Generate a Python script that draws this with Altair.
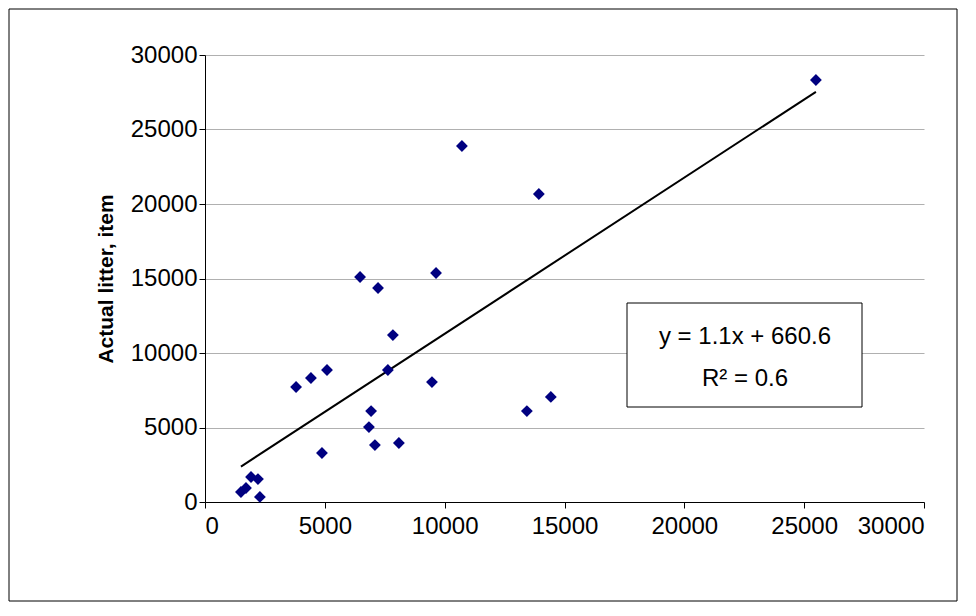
import pandas as pd
import altair as alt

predicted = [1500, 1710, 1920, 2210, 2290, 3800, 4420, 5090, 4880, 6470, 7220, 6930,
             6840, 7090, 8090, 7630, 7840, 9470, 9640, 10720, 13930, 13430, 14430, 25490]
actual = [670, 940, 1680, 1540, 340, 7720, 8320, 8860, 3290, 15100, 14360, 6100,
          5030, 3820, 3960, 8860, 11200, 8050, 15370, 23890, 20670, 6100, 7050, 28320]
ticks = [0, 5000, 10000, 15000, 20000, 25000, 30000]

df = pd.DataFrame({"predicted": predicted, "actual": actual})
font = "Liberation Sans"

xs = alt.X("predicted:Q", scale=alt.Scale(domain=[0, 30000], nice=False),
           axis=alt.Axis(values=ticks, grid=False, title=None, labelFontSize=24,
                         labelFont=font, labelColor="black", domainColor="black",
                         tickColor="black", tickSize=6, labelPadding=6, format="d"))
ys = alt.Y("actual:Q", scale=alt.Scale(domain=[0, 30000], nice=False),
           axis=alt.Axis(values=ticks, grid=True, gridColor="#b0b0b0",
                         title="Actual litter, item", titleFont=font, titleFontSize=21,
                         titleFontWeight="bold", titlePadding=14, tickSize=6,
                         labelFontSize=24, labelFont=font, labelColor="black",
                         domainColor="black", tickColor="black", format="d"))

base = alt.Chart(df)
points = base.mark_point(shape="diamond", filled=True, color="#000080", size=140,
                         opacity=1).encode(x=xs, y=ys)
trend = base.transform_regression("predicted", "actual").mark_line(
    color="black", strokeWidth=2).encode(x="predicted:Q", y="actual:Q")

one = pd.DataFrame({"a": [0]})
frame = alt.Chart(one).mark_rect(
    fill=None, stroke="black", strokeWidth=1).encode(
    x=alt.value(-196), x2=alt.value(752), y=alt.value(-46), y2=alt.value(546))
box = alt.Chart(one).mark_rect(
    fill="white", stroke="black", strokeWidth=1).encode(
    x=alt.value(422), x2=alt.value(657), y=alt.value(248), y2=alt.value(352))
eq = alt.Chart(one).mark_text(
    font=font, fontSize=24, color="black").encode(
    x=alt.value(540), y=alt.value(282), text=alt.value("y = 1.1x + 660.6"))
r2 = alt.Chart(one).mark_text(
    font=font, fontSize=24, color="black").encode(
    x=alt.value(540), y=alt.value(324), text=alt.value("R² = 0.6"))

chart = alt.layer(trend, points, frame, box, eq, r2).properties(
    width=719, height=447, autosize=alt.AutoSizeParams(type="none"),
    padding={"left": 197, "top": 47, "right": 42, "bottom": 100},
    background="white",
).configure_view(stroke=None)

chart.save("out.html", embed_options={"renderer": "svg", "actions": False})
